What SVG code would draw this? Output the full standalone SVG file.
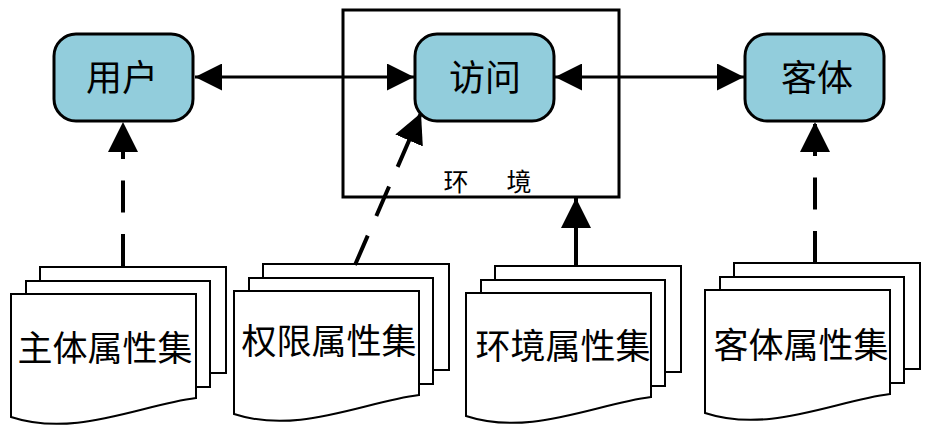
<svg xmlns="http://www.w3.org/2000/svg" xmlns:xlink="http://www.w3.org/1999/xlink" width="930" height="434" viewBox="0 0 930 434">
<style>
.bg{fill:#ffffff}
.node{fill:#92CDDC;stroke:#000;stroke-width:3}
.env{fill:none;stroke:#000;stroke-width:3}
.page{fill:#fff;stroke:#000;stroke-width:2;stroke-linejoin:miter}
.t{font-family:"Noto Sans CJK SC","Noto Sans CJK JP",sans-serif;fill:#000;text-anchor:middle}
.nt{font-size:36px}
.dt{font-size:35px}
.et{font-size:25px}
.solid{fill:none;stroke:#000;stroke-width:3}
.solid4{fill:none;stroke:#000;stroke-width:4}
.dash{fill:none;stroke:#000;stroke-width:4;stroke-dasharray:32 21.5}
</style>
<defs>
<marker id="ah" markerUnits="userSpaceOnUse" markerWidth="27" markerHeight="27" viewBox="0 0 27 27" refX="27" refY="13.5" orient="auto-start-reverse">
<path d="M0,0 L27,13.5 L0,27 Z" fill="#000"/>
</marker>
<marker id="av" markerUnits="userSpaceOnUse" markerWidth="30" markerHeight="30" viewBox="0 0 30 30" refX="30" refY="15" orient="auto">
<path d="M0,0 L30,15 L0,30 Z" fill="#000"/>
</marker>
<g id="stack">
<rect class="page" x="29" y="-27" width="186" height="106"/>
<rect class="page" x="15" y="-13" width="184" height="106"/>
<path class="page" d="M0,0 H185 V104 C129,111 64,144 0,123 Z"/>
</g>
</defs>
<rect class="bg" x="0" y="0" width="930" height="434"/>

<g id="env">
<rect class="env" x="343" y="10" width="276" height="187"/>
<text class="t et" y="191"><tspan x="456">环</tspan><tspan x="519">境</tspan></text>
</g>

<g id="user">
<rect class="node" x="54" y="34" width="139" height="87" rx="22" ry="22"/>
<text class="t nt" x="122" y="90.5">用户</text>
</g>

<g id="access">
<rect class="node" x="415" y="34" width="139" height="87" rx="22" ry="22"/>
<text class="t nt" x="485" y="90.5">访问</text>
</g>

<g id="object">
<rect class="node" x="745" y="34" width="139" height="87" rx="22" ry="22"/>
<text class="t nt" x="817" y="90.5">客体</text>
</g>

<g id="doc-subject" transform="translate(11,294)">
<use xlink:href="#stack" href="#stack"/>
<text class="t dt" x="94" y="67">主体属性集</text>
</g>

<g id="doc-permission" transform="translate(234,291)">
<use xlink:href="#stack" href="#stack"/>
<text class="t dt" x="95" y="63">权限属性集</text>
</g>

<g id="doc-environment" transform="translate(466,293)">
<use xlink:href="#stack" href="#stack"/>
<text class="t dt" x="97" y="66">环境属性集</text>
</g>

<g id="doc-object" transform="translate(705,290)">
<use xlink:href="#stack" href="#stack"/>
<text class="t dt" x="96" y="68">客体属性集</text>
</g>

<g id="connectors">
<line class="solid" x1="195" y1="77" x2="414" y2="77" marker-start="url(#ah)" marker-end="url(#ah)"/>
<line class="solid" x1="555" y1="77" x2="744" y2="77" marker-start="url(#ah)" marker-end="url(#ah)"/>
<line class="dash" x1="123" y1="266" x2="123" y2="122" marker-end="url(#av)"/>
<line class="dash" x1="815" y1="263" x2="815" y2="122" marker-end="url(#av)"/>
<line class="dash" x1="355" y1="265" x2="421" y2="113" marker-end="url(#av)"/>
<line class="solid4" x1="576" y1="266" x2="576" y2="198" marker-end="url(#av)"/>
</g>
</svg>
